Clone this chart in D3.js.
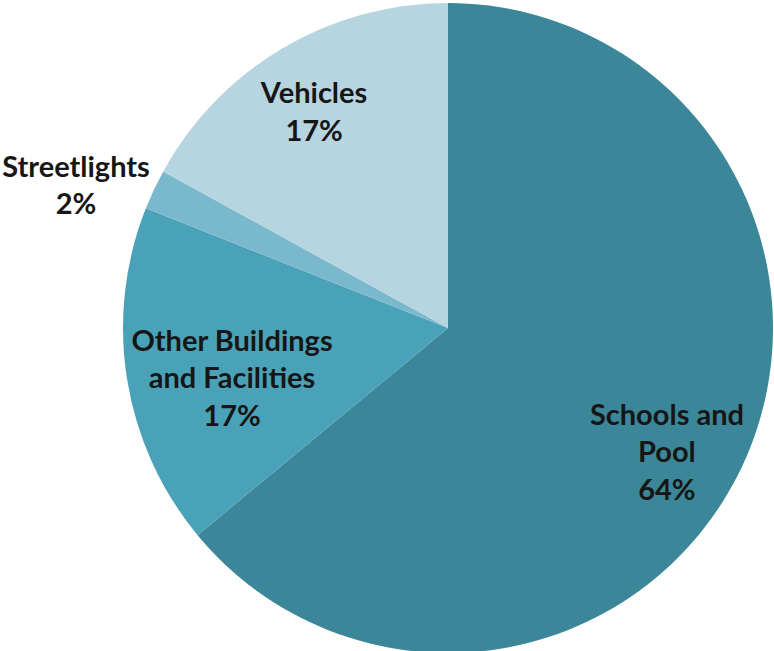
<!DOCTYPE html>
<html>
<head>
<meta charset="utf-8">
<script src="https://cdn.jsdelivr.net/npm/d3@7"></script>
<style>
  html, body { margin: 0; padding: 0; background: #fff; }
  svg { display: block; }
  text { font-family: Lato, "Open Sans", sans-serif; font-weight: 700; fill: #161616; }
</style>
</head>
<body>
<svg id="chart" width="774" height="651"></svg>
<script>
// Energy use shares by category, clockwise from 12 o'clock
const categories = ["Schools and Pool", "Other Buildings and Facilities", "Streetlights", "Vehicles"];
const shares = [64, 17, 2, 17];
const colors = ["#3b8699", "#4aa2b8", "#7ab9cb", "#b6d5e0"];
// label lines as printed
const labelLines = [
  ["Schools and", "Pool", "64%"],
  ["Other Buildings", "and Facilities", "17%"],
  ["Streetlights", "2%"],
  ["Vehicles", "17%"]
];
// label anchor (radius factor, angle in degrees from 12 o'clock) per slice
const labelPlacement = [
  { r: 0.774, deg: 119.5 },
  { r: 0.682, deg: 257.0 },
  { r: 1.226, deg: 291.0 },
  { r: 0.782, deg: 328.2 }
];

const svg = d3.select("#chart");
const cx = 448, cy = 328, radius = 325;
const g = svg.append("g").attr("transform", `translate(${cx},${cy})`);

const pie = d3.pie().sort(null).value(d => d.value).startAngle(0).endAngle(2 * Math.PI);
const arcs = pie(categories.map((c, i) => ({ name: c, value: shares[i], idx: i })));
const arc = d3.arc().innerRadius(0).outerRadius(radius);

g.selectAll("path.slice")
  .data(arcs)
  .join("path")
  .attr("class", "slice")
  .attr("d", arc)
  .attr("fill", d => colors[d.data.idx]);

const fontSize = 29, lineH = 37.5;
arcs.forEach(d => {
  const p = labelPlacement[d.data.idx];
  const a = p.deg * Math.PI / 180;
  const x = Math.sin(a) * radius * p.r;
  const y = -Math.cos(a) * radius * p.r;
  const lines = labelLines[d.data.idx];
  const t = g.append("text")
    .attr("text-anchor", "middle")
    .attr("font-size", fontSize);
  lines.forEach((ln, k) => {
    t.append("tspan")
      .attr("x", x)
      .attr("y", y + (k - (lines.length - 1) / 2) * lineH + fontSize * 0.35)
      .text(ln);
  });
});
</script>
</body>
</html>
